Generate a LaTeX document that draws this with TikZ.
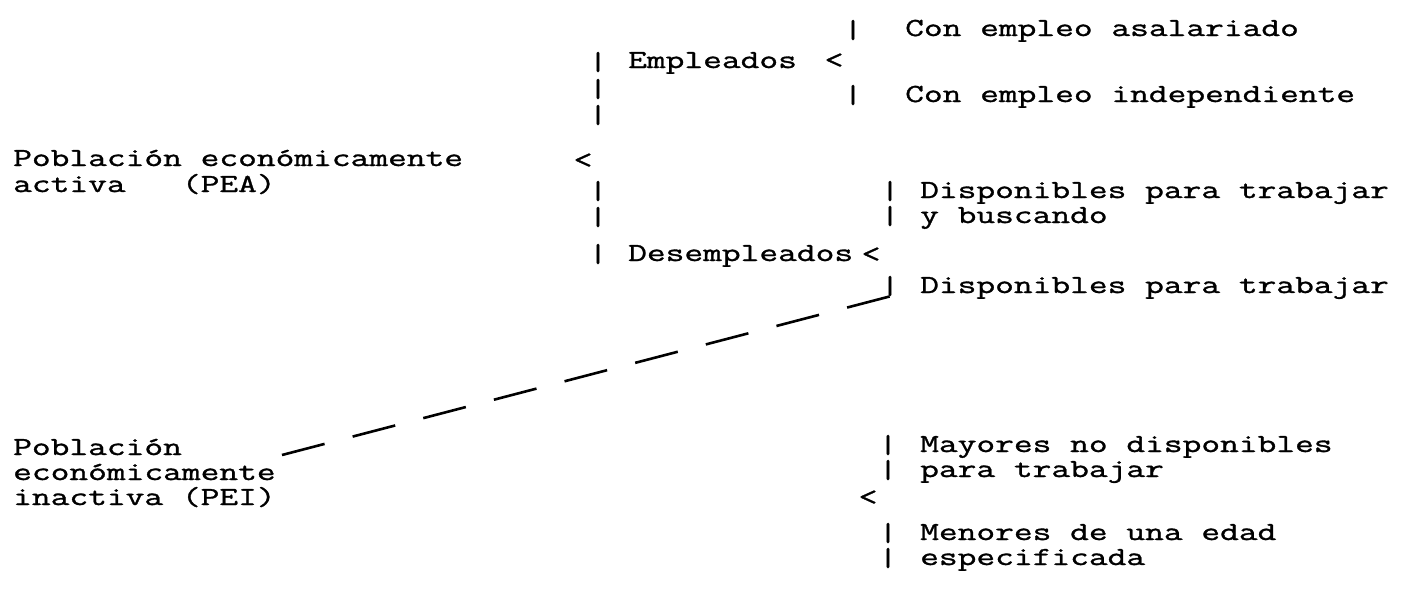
\documentclass[tikz,border=0pt]{standalone}
\usepackage{fontspec}
\usepackage{tikz}
\newfontfamily\tw[FakeStretch=1.4,FakeBold=1.2]{Latin Modern Mono}
\tikzstyle{tnode} = [anchor=base west, inner sep=0pt, font=\tw\fontsize{26}{28}\selectfont]
\tikzstyle{bnode} = [anchor=base, inner sep=0pt, font=\tw\fontsize{26}{28}\selectfont]
\tikzstyle{line} = [draw, line width=2.6pt, dash pattern=on 44pt off 29pt]

\begin{document}
\begin{tikzpicture}[x=1pt, y=-1pt]
	\useasboundingbox (0, 0) rectangle (1407, 592);
	% left labels
	\node [tnode] (pea) at (13, 166) {Población económicamente};
	\node [tnode] (pea2) at (13, 192) {activa\ \ \ (PEA)};
	\node [tnode] (pei) at (13, 455) {Población};
	\node [tnode] (pei2) at (13, 480) {económicamente};
	\node [tnode] (pei3) at (13, 505) {inactiva (PEI)};
	\node [bnode] (k0) at (583, 168) {<};
	% second column
	\node [tnode] (emp) at (628, 68) {Empleados};
	\node [bnode] (k1) at (834, 68) {<};
	\node [tnode] (desemp) at (628, 261) {Desempleados};
	\node [bnode] (k2) at (871, 262) {<};
	\node [bnode] (b1) at (598, 70) {|};
	\node [bnode] (b2) at (598, 97) {|};
	\node [bnode] (b3) at (598, 123) {|};
	\node [bnode] (b4) at (598, 199) {|};
	\node [bnode] (b5) at (598, 225) {|};
	\node [bnode] (b6) at (598, 262) {|};
	% third column
	\node [bnode] (b7) at (853, 38) {|};
	\node [tnode] (asal) at (905, 36) {Con empleo asalariado};
	\node [bnode] (b8) at (853, 103) {|};
	\node [tnode] (indep) at (905, 102) {Con empleo independiente};
	\node [bnode] (b9) at (890, 199) {|};
	\node [bnode] (b10) at (890, 224) {|};
	\node [tnode] (disp) at (920, 198) {Disponibles para trabajar};
	\node [tnode] (disp2) at (920, 223) {y buscando};
	\node [bnode] (b11) at (890, 294) {|};
	\node [tnode] (dispo) at (920, 293) {Disponibles para trabajar};
	% inactive group
	\node [bnode] (k3) at (868, 505) {<};
	\node [bnode] (b12) at (888, 453) {|};
	\node [bnode] (b13) at (888, 478) {|};
	\node [tnode] (may) at (920, 452) {Mayores no disponibles};
	\node [tnode] (may2) at (920, 477) {para trabajar};
	\node [bnode] (b14) at (888, 541) {|};
	\node [bnode] (b15) at (888, 566) {|};
	\node [tnode] (men) at (920, 540) {Menores de una edad};
	\node [tnode] (men2) at (920, 565) {especificada};

	\coordinate (peiend) at (282, 455);
	\path [line] (peiend) -- (b11.south);
\end{tikzpicture}
\end{document}
